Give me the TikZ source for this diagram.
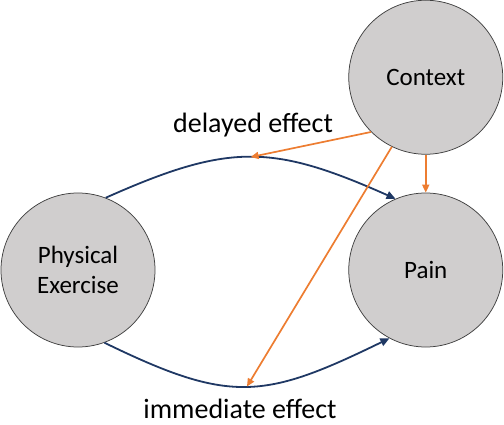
\documentclass[tikz,border=0pt]{standalone}
\usepackage{fontspec}
\setmainfont{Carlito}
\usetikzlibrary{positioning,arrows.meta}
\definecolor{circfill}{HTML}{D0CECE}
\definecolor{circline}{HTML}{404040}
\definecolor{navy}{HTML}{1F3864}
\definecolor{ctxorange}{HTML}{ED7D31}
\tikzset{
  var/.style={circle,draw=circline,fill=circfill,line width=0.75pt,
              minimum size=154pt,inner sep=0pt,align=center,
              font=\fontsize{25}{30}\selectfont},
  effect/.style={->,>={Triangle[length=9pt,width=8pt]},line width=1.8pt,navy},
  ctxarrow/.style={->,>={Triangle[length=8pt,width=7pt]},line width=1.7pt,ctxorange},
  lbl/.style={font=\fontsize{28}{34}\selectfont,inner sep=0pt},
}

\begin{document}
\begin{tikzpicture}[x=1pt,y=1pt]
  \useasboundingbox (0,0) rectangle (504,424);
  % Variables
  \node[var]                    (pe)   at (78,154) {Physical\\Exercise};
  \node[var,right=193pt of pe]  (pain) {Pain};
  \node[var,above=38pt of pain] (ctx)  {Context};
  % Exercise -> pain
  \draw[effect] (pe.69) .. controls +(24:135) and +(156:135) ..
    coordinate[pos=0.5] (delay) (pain.113);
  \draw[effect] (pe.-70) .. controls +(-26:140) and +(206:140) ..
    coordinate[pos=0.5] (immed) (pain.-118);
  % Context acts on the effects and on pain
  \draw[ctxarrow] (ctx.225) -- (delay);
  \draw[ctxarrow] (ctx.244) -- (immed);
  \draw[ctxarrow] (ctx) -- (pain);
  % Labels
  \node[lbl] (delaylbl) at (253,299) {delayed effect};
  \node[lbl] (immedlbl) at (240,15)  {immediate effect};
\end{tikzpicture}
\end{document}
